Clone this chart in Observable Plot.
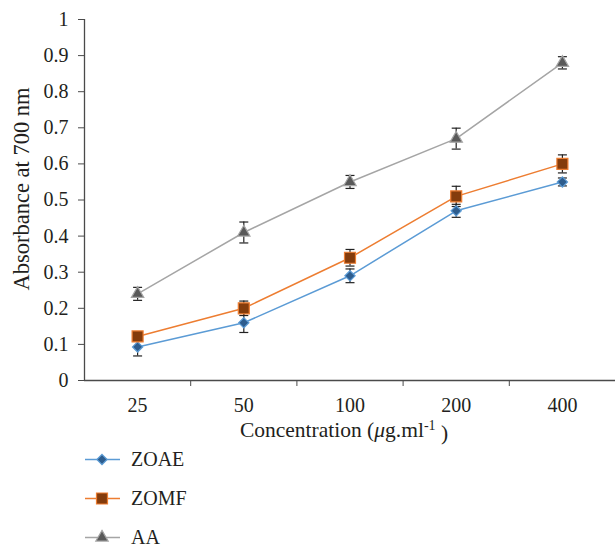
<!DOCTYPE html>
<html>
<head>
<meta charset="utf-8">
<script src="https://cdn.jsdelivr.net/npm/d3@7"></script>
<script src="https://cdn.jsdelivr.net/npm/@observablehq/plot@0.6"></script>
<style>
  html, body { margin: 0; padding: 0; background: white; }
  #wrap { position: relative; width: 615px; height: 545px; overflow: hidden; }
  #legend { position: absolute; left: 0; top: 440px; width: 615px; font-family: 'Liberation Serif', 'DejaVu Serif', serif; font-size: 20px; color: #231f20; }
  .row { height: 39px; display: flex; align-items: center; }
  .row svg { display: block; }
  .row span { margin-left: 11px; }
</style>
</head>
<body>
<div id="wrap"><div id="chart"></div><div id="legend"></div></div>
<script>
const categories = ["25", "50", "100", "200", "400"];
const seriesNames = ["ZOAE", "ZOMF", "AA"];
const zoae = [0.093, 0.16, 0.29, 0.47, 0.55];
const zoaeErr = [0.025, 0.027, 0.019, 0.018, 0.011];
const zomf = [0.122, 0.20, 0.34, 0.51, 0.60];
const zomfErr = [0.012, 0.02, 0.023, 0.028, 0.025];
const aa = [0.24, 0.41, 0.55, 0.67, 0.88];
const aaErr = [0.018, 0.029, 0.018, 0.029, 0.017];
const yTicks = [0, 0.1, 0.2, 0.3, 0.4, 0.5, 0.6, 0.7, 0.8, 0.9, 1];
const yTitle = "Absorbance at 700 nm";
const xTitle = "Concentration (μg.ml-1)";

const styles = [
  {line: "#5B9BD5", fill: "#2E5D8E", stroke: "#5B9BD5", symbol: "diamond2", r: 4.6},
  {line: "#ED7D31", fill: "#843C0C", stroke: "#ED7D31", symbol: "square", r: 6.2},
  {line: "#A5A5A5", fill: "#595959", stroke: "#A5A5A5", symbol: "triangle", r: 4.6}
];
const values = [zoae, zomf, aa];
const errs = [zoaeErr, zomfErr, aaErr];

const series = seriesNames.map((name, k) => ({
  name,
  style: styles[k],
  rows: categories.map((c, i) => ({i, c, v: values[k][i], lo: values[k][i] - errs[k][i], hi: values[k][i] + errs[k][i]}))
}));

const cap = {draw(ctx) { ctx.moveTo(-4.5, 0); ctx.lineTo(4.5, 0); }};
const idx = categories.map((_, i) => i);
const bounds = categories.slice(0, -1).map((_, i) => i + 0.5);

const marks = [
  Plot.ruleX([-0.5], {stroke: "#4a4a4a", strokeWidth: 1.3}),
  Plot.ruleY([0], {stroke: "#4a4a4a", strokeWidth: 1.3}),
  Plot.axisY({ticks: yTicks, tickSize: 6, tickPadding: 10, tickFormat: d => String(+d.toFixed(1)), label: null, stroke: "#4a4a4a"}),
  Plot.axisX({ticks: idx, tickSize: 0, tickPadding: 17, tickFormat: i => categories[i], label: null}),
  Plot.axisX({ticks: bounds, tickSize: 6, tickFormat: () => "", label: null, stroke: "#4a4a4a"}),
  Plot.text([yTitle], {frameAnchor: "left", textAnchor: "middle", rotate: -90, dx: -63, dy: -11, fontSize: 22.5}),
  Plot.text([xTitle], {frameAnchor: "bottom", dx: -6, dy: 56, fontSize: 21.5})
];
for (const s of series) {
  marks.push(Plot.line(s.rows, {x: "i", y: "v", stroke: s.style.line, strokeWidth: 1.5}));
}
for (const s of series) {
  marks.push(Plot.ruleX(s.rows, {x: "i", y1: "lo", y2: "hi", stroke: "#222", strokeWidth: 1.2}));
  marks.push(Plot.dot(s.rows, {x: "i", y: "lo", symbol: cap, stroke: "#222", strokeWidth: 1.2, r: 3}));
  marks.push(Plot.dot(s.rows, {x: "i", y: "hi", symbol: cap, stroke: "#222", strokeWidth: 1.2, r: 3}));
}
for (const s of series) {
  marks.push(Plot.dot(s.rows, {x: "i", y: "v", symbol: s.style.symbol, r: s.style.r, fill: s.style.fill, stroke: s.style.stroke, strokeWidth: 1.2}));
}

const chart = Plot.plot({
  width: 615, height: 455,
  marginLeft: 84, marginRight: 0, marginTop: 19, marginBottom: 75,
  style: {fontFamily: "'Liberation Serif', 'DejaVu Serif', serif", fontSize: "20px", color: "#231f20", background: "white"},
  x: {domain: [-0.5, 4.5], axis: null},
  y: {domain: [0, 1], axis: null},
  marks
});
document.getElementById("chart").appendChild(chart);

// italic mu and superscript in x title
d3.select(chart).selectAll("text").each(function() {
  if (this.textContent === xTitle) {
    const t = d3.select(this);
    t.text(null);
    t.append("tspan").text("Concentration (");
    t.append("tspan").attr("font-style", "italic").text("μ");
    t.append("tspan").text("g.ml");
    t.append("tspan").attr("dy", "-0.45em").attr("font-size", "14px").text("-1");
    t.append("tspan").attr("dy", "0.45em").text(" )");
  }
});

// legend
const legend = d3.select("#legend");
series.forEach(s => {
  const row = legend.append("div").attr("class", "row");
  const svg = row.append("svg").attr("width", 120).attr("height", 39);
  svg.append("line").attr("x1", 85).attr("x2", 120).attr("y1", 19.5).attr("y2", 19.5)
    .attr("stroke", s.style.line).attr("stroke-width", 1.5);
  const sym = {diamond2: d3.symbolDiamond2, square: d3.symbolSquare, triangle: d3.symbolTriangle}[s.style.symbol];
  svg.append("path").attr("transform", "translate(102,19.5)")
    .attr("d", d3.symbol(sym, Math.PI * s.style.r * s.style.r)())
    .attr("fill", s.style.fill).attr("stroke", s.style.stroke).attr("stroke-width", 1.2);
  row.append("span").text(s.name);
});
</script>
</body>
</html>
